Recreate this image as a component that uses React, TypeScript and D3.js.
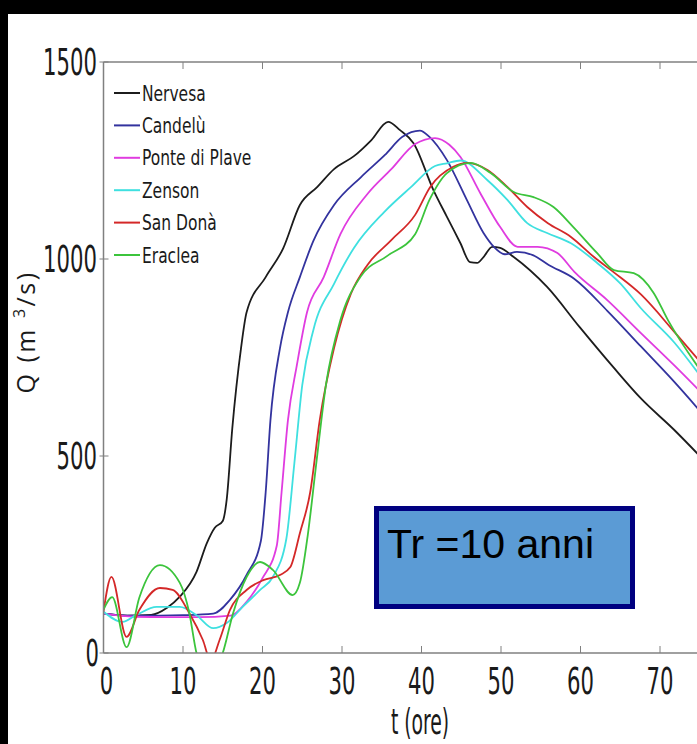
import * as d3 from "d3";

// hydrograph, Tr = 10 anni
const W = 697;
const H = 744;

const xTicks = [0, 10, 20, 30, 40, 50, 60, 70];
const yTicks = [0, 500, 1000, 1500];

const names = ["Nervesa", "Candelù", "Ponte di Plave", "Zenson", "San Donà", "Eraclea"];
const colors = ["#1c1c1c", "#33339e", "#e03ce0", "#3fe0e0", "#d42828", "#3cc43c"];

const nervesaT = [0, 3, 6, 8, 9.6, 11.7, 13, 14, 15, 15.5, 16.2, 17.3, 18, 20.4, 22.6, 24.7, 26.9, 29, 31.5, 33.7, 35.8, 37.3, 39, 41.5, 43.2, 44.9, 46.1, 47, 47.8, 48.9, 49.9, 51.6, 55.8, 59.9, 64.1, 67.6, 71.8, 75];
const nervesaQ = [100, 95, 97, 115, 143, 206, 279, 318, 335, 390, 570, 774, 865, 954, 1027, 1137, 1183, 1228, 1261, 1302, 1348, 1327, 1294, 1175, 1107, 1040, 992, 990, 1005, 1031, 1028, 1005, 929, 827, 726, 646, 566, 500];

const candeluT = [0, 3, 7, 10, 13.8, 15.9, 18, 19.8, 20.4, 21, 22.2, 23.2, 24.7, 26.4, 29, 32.4, 35.4, 37.6, 39.8, 41, 43.2, 45.7, 47.8, 49.1, 50.5, 52, 54, 56, 59.2, 63.4, 67.6, 71.8, 75];
const candeluQ = [100, 95, 95, 96, 100, 135, 198, 285, 408, 591, 774, 865, 954, 1046, 1137, 1208, 1264, 1310, 1326, 1310, 1251, 1150, 1066, 1031, 1012, 1018, 1010, 985, 950, 868, 778, 688, 615];

const ponteT = [0, 4, 8, 12, 16, 18, 20, 21.8, 22.4, 23.2, 24.3, 25.6, 27.7, 29.8, 33.2, 36.2, 39.2, 41.7, 43.5, 44.9, 47.4, 49.9, 52.1, 54.6, 57.1, 59.2, 63.4, 67.6, 71.8, 75];
const ponteQ = [100, 92, 91, 91, 95, 130, 190, 273, 408, 591, 728, 865, 954, 1063, 1165, 1228, 1292, 1307, 1290, 1259, 1167, 1081, 1031, 1031, 1015, 968, 895, 812, 730, 665];

const zensonT = [0, 2.4, 4.1, 6.7, 9.6, 11.7, 13.8, 15.5, 17.5, 19.7, 21.3, 23, 24, 25, 26.4, 29, 31.5, 35.3, 38.7, 41.7, 43.2, 44.9, 48.3, 50.8, 53.3, 55.8, 58.8, 62.1, 65, 67.6, 71.8, 75];
const zensonQ = [105, 79, 96, 117, 117, 96, 63, 76, 117, 160, 193, 290, 480, 680, 820, 937, 1028, 1119, 1183, 1236, 1243, 1250, 1200, 1150, 1091, 1066, 1040, 990, 938, 875, 788, 705];

const sanDonaT = [0, 1, 2.9, 4.5, 7.1, 8.7, 10.8, 12.5, 13.5, 14.6, 15.9, 18, 20.1, 22.2, 23.5, 24.7, 26, 27.2, 29, 31.1, 33.2, 36.2, 39.2, 41.1, 44, 45.8, 48.3, 50.8, 53.3, 55.9, 58.8, 61.7, 64.2, 67.6, 71.8, 75];
const sanDonaQ = [105, 193, 41, 109, 165, 160, 101, 33, -20, 33, 109, 160, 185, 198, 218, 304, 408, 591, 774, 911, 985, 1048, 1112, 1183, 1234, 1244, 1226, 1183, 1132, 1091, 1056, 1005, 966, 910, 815, 740];

const eracleaT = [0, 1.1, 2.9, 4.5, 7.1, 9.6, 10.8, 11.7, 13.3, 15, 16.3, 18, 19.7, 21.3, 23.8, 24.7, 25.7, 26.7, 28, 29.8, 32.3, 35.7, 39.2, 41, 43.2, 46.2, 48.7, 51.6, 54.1, 56.6, 59.1, 62.1, 64.2, 66.7, 69.2, 71, 75];
const eracleaQ = [110, 142, 15, 140, 223, 178, 101, 0, -60, 0, 101, 193, 231, 211, 147, 178, 300, 470, 683, 845, 954, 1008, 1063, 1150, 1218, 1244, 1218, 1170, 1157, 1132, 1081, 1015, 972, 964, 914, 845, 720];

const seriesT = [nervesaT, candeluT, ponteT, zensonT, sanDonaT, eracleaT];
const seriesQ = [nervesaQ, candeluQ, ponteQ, zensonQ, sanDonaQ, eracleaQ];

const margin = { left: 103.5, top: 62, bottom: 653 };

const narrow = "'Liberation Sans Narrow', 'DejaVu Sans Condensed', sans-serif";

const Cond = ({ x, y, anchor, size, sx, children }) => (
  <text
    transform={`translate(${x},${y}) scale(${sx},1)`}
    textAnchor={anchor}
    fontFamily={narrow}
    fontSize={size}
    fill="#1a1a1a"
  >
    {children}
  </text>
);

export default function App() {
  let x = d3.scaleLinear().domain([0, 75]).range([margin.left, margin.left + 75 * 7.95]);
  let y = d3.scaleLinear().domain([0, 1500]).range([margin.bottom, margin.top]);

  let lineGen = d3
    .line()
    .x((d) => x(d[0]))
    .y((d) => y(d[1]))
    .curve(d3.curveMonotoneX);

  let series = names.map((name, i) => ({
    name,
    color: colors[i],
    pts: seriesT[i].map((t, j) => [t, seriesQ[i][j]]),
  }));

  let axisColor = "#808080";

  return (
    <div style={{ position: "fixed", left: 0, top: 0, width: W, height: H, background: "#000" }}>
      <svg width={W} height={H} style={{ display: "block" }}>
        <rect x={0} y={0} width={W} height={H} fill="#000" />
        <rect x={8} y={14} width={W - 8} height={H - 14} fill="#fff" />
        <defs>
          <clipPath id="plot">
            <rect x={margin.left} y={margin.top} width={W - margin.left} height={margin.bottom - margin.top} />
          </clipPath>
        </defs>

        {/* curves */}
        <g clipPath="url(#plot)">
          {series.map((s) => (
            <path key={s.name} d={lineGen(s.pts)} fill="none" stroke={s.color} strokeWidth={1.8} />
          ))}
        </g>

        {/* axes box */}
        <g stroke={axisColor} strokeWidth={1.5}>
          <line x1={margin.left} x2={W} y1={margin.bottom} y2={margin.bottom} />
          <line x1={margin.left} x2={W} y1={margin.top} y2={margin.top} />
          <line x1={margin.left} x2={margin.left} y1={margin.top} y2={margin.bottom} />
          {xTicks.slice(1).map((t) => (
            <g key={t}>
              <line x1={x(t)} x2={x(t)} y1={margin.bottom} y2={margin.bottom - 7} strokeWidth={1} />
              <line x1={x(t)} x2={x(t)} y1={margin.top} y2={margin.top + 7} strokeWidth={1} />
            </g>
          ))}
          {yTicks.map((v) => (
            <line key={v} x1={margin.left - 4} x2={margin.left + 5} y1={y(v)} y2={y(v)} strokeWidth={1} />
          ))}
        </g>

        {/* tick labels */}
        {yTicks.map((v) => (
          <Cond key={v} x={v === 0 ? 99 : 97} y={y(v) + 13} anchor="end" size={38} sx={0.62}>
            {v}
          </Cond>
        ))}
        {xTicks.map((t) => (
          <Cond key={t} x={x(t) + (t === 0 ? 3 : 0)} y={694} anchor="middle" size={38} sx={0.62}>
            {t}
          </Cond>
        ))}
        <Cond x={420} y={734} anchor="middle" size={36} sx={0.58}>
          t (ore)
        </Cond>

        {/* y label */}
        <text
          transform="translate(35,332) rotate(-90)"
          textAnchor="middle"
          fontFamily="'Open Sans', sans-serif"
          fontSize={25}
          fill="#1a1a1a"
          letterSpacing={2.5}
        >
          Q (m <tspan dy={-10} fontSize={16}>3</tspan>
          <tspan dy={10}>/s)</tspan>
        </text>

        {/* legend */}
        {series.map((s, i) => {
          let ly = 93 + i * 32.4;
          return (
            <g key={s.name}>
              <line x1={114} x2={140} y1={ly} y2={ly} stroke={s.color} strokeWidth={2} />
              <Cond x={142} y={ly + 7.5} anchor="start" size={21} sx={0.82}>
                {s.name}
              </Cond>
            </g>
          );
        })}

        {/* return period box */}
        <rect x={376.5} y={508.5} width={256} height={98} fill="#5B9BD5" stroke="#000080" strokeWidth={5} />
        <text x={387} y={558} fontFamily="'Liberation Sans', Arial, sans-serif" fontSize={41} fill="#000">
          Tr =10 anni
        </text>
      </svg>
    </div>
  );
}
